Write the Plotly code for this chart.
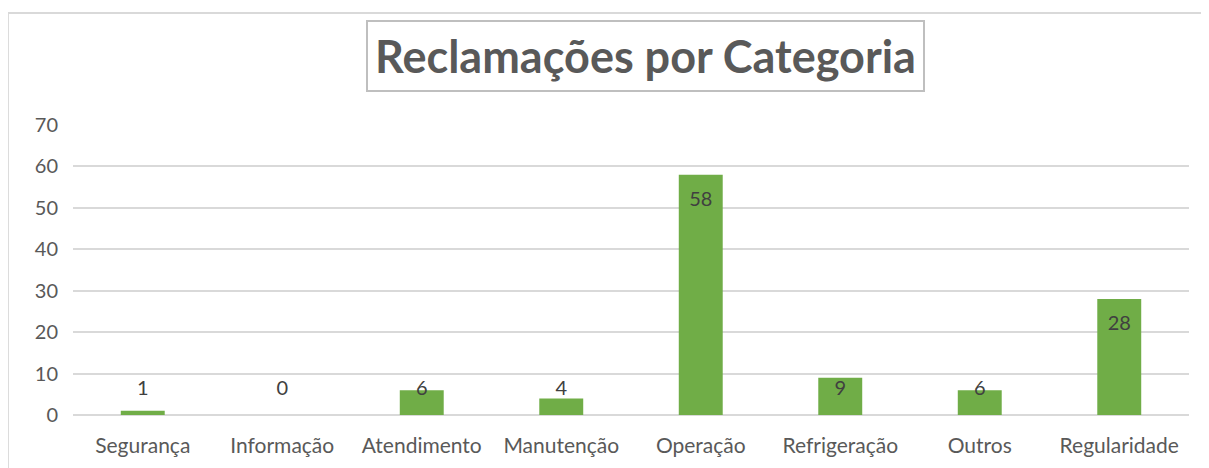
import plotly.graph_objects as go

categories = ["Segurança", "Informação", "Atendimento", "Manutenção", "Operação", "Refrigeração", "Outros", "Regularidade"]
values = [1, 0, 6, 4, 58, 9, 6, 28]
y_ticks = [0, 10, 20, 30, 40, 50, 60, 70]

FONT = "Lato"
OFF = 8  # page body margin
W, H = 1201, 460
L, R, T, B = 73 - OFF, 20, 125 - OFF, 53
pw = W - L - R
ph = H - T - B

def px_x(p):
    return (p - OFF - L) / pw

def px_y(p):
    return (H - B - (p - OFF)) / ph

# Excel-like "inside end" labels, clamped so they stay above the axis
label_y = [max(v - 6.3, 6.0) for v in values]

fig = go.Figure()
fig.add_trace(go.Bar(
    x=categories, y=values,
    marker=dict(color="#70AD47", line=dict(width=0)),
    hoverinfo="x+y",
))
fig.add_trace(go.Scatter(
    x=categories, y=label_y, mode="text",
    text=[str(v) for v in values],
    textposition="middle center",
    textfont=dict(family=FONT, size=20, color="#404040"),
    hoverinfo="skip",
))

fig.update_layout(
    width=W, height=H,
    margin=dict(l=L, r=R, t=T, b=B),
    paper_bgcolor="white", plot_bgcolor="white",
    showlegend=False,
    bargap=0.685,
    font=dict(family=FONT, color="#595959"),
    xaxis=dict(
        showgrid=False, showline=False, zeroline=False,
        ticks="", tickfont=dict(family=FONT, size=21, color="#595959"),
        ticklabelstandoff=16,
    ),
    yaxis=dict(
        range=[0, 70], tickvals=y_ticks, showgrid=True,
        gridcolor="#D9D9D9", gridwidth=1.8,
        zeroline=True, zerolinecolor="#D9D9D9", zerolinewidth=1.8,
        showline=False, ticks="",
        tickfont=dict(family=FONT, size=20, color="#595959"),
        ticklabelstandoff=14,
    ),
    shapes=[dict(
        type="rect", xref="paper", yref="paper",
        x0=px_x(8), x1=px_x(1240), y0=px_y(13), y1=px_y(500),
        line=dict(color="#D9D9D9", width=1.8), layer="below",
    )],
    annotations=[dict(
        text="<b>Reclamações por Categoria</b>",
        xref="paper", yref="paper",
        x=px_x(645), y=px_y(56), xanchor="center", yanchor="middle",
        showarrow=False,
        font=dict(family=FONT, size=45, color="#595959"),
        bordercolor="#BFBFBF", borderwidth=2, borderpad=7,
        bgcolor="white",
    )],
)

fig.write_html("out.html")
